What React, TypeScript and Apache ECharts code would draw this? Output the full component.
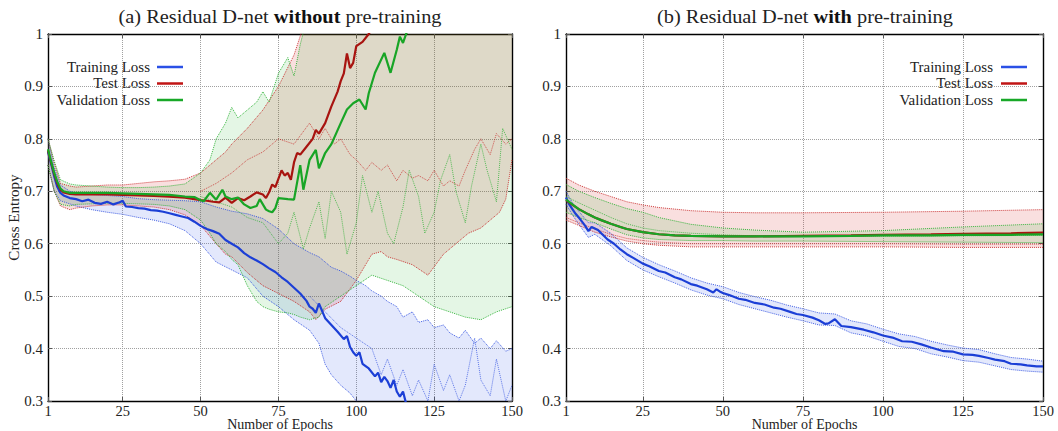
import React, { useEffect, useRef } from 'react';
import * as echarts from 'echarts';

const FONT = '"Liberation Serif", "Times New Roman", serif';

const xTicks = [1, 25, 50, 75, 100, 125, 150];
const yTicks = [0.3, 0.4, 0.5, 0.6, 0.7, 0.8, 0.9, 1];
const legendNames = ['Training Loss', 'Test Loss', 'Validation Loss'];
const titleA = ['(a) Residual D-net ', 'without', ' pre-training'];
const titleB = ['(b) Residual D-net ', 'with', ' pre-training'];

// ---------- Panel (a): without pre-training ----------
const aTrainEp = [1,2,3,4,5,6,8,10,12,14,16,18,20,22,24,25,26,28,30,32,34,36,38,40,42,44,46,48,50,52,54,56,58,60,62,64,66,68,70,72,74,76,78,80,82,84,85,86,87,88,90,92,94,96,97,98,99,100,101,102,104,106,107,108,109,110,111,112,113,114,115,116,118,120,125,130,135,140,145,150];
const aTrainMean = [.775,.752,.728,.708,.697,.692,.687,.685,.681,.684,.678,.676,.680,.675,.679,.682,.671,.670,.668,.667,.664,.663,.661,.658,.655,.652,.649,.642,.634,.628,.624,.619,.607,.600,.593,.582,.574,.568,.561,.553,.546,.536,.527,.516,.505,.491,.480,.476,.468,.486,.458,.445,.432,.418,.424,.403,.393,.386,.393,.371,.362,.347,.354,.336,.346,.338,.325,.340,.318,.308,.318,.295,.285,.275,.262,.250,.242,.235,.228,.220];
const aTrainBandEp = [1,3,5,8,10,15,20,25,30,35,40,45,50,55,60,65,70,75,80,85,88,90,92,95,98,100,103,105,108,110,113,115,118,120,123,125,128,130,133,135,138,140,143,145,148,150];
const aTrainHi = [.80,.745,.712,.70,.697,.694,.692,.69,.686,.684,.683,.682,.68,.67,.662,.657,.648,.628,.60,.583,.575,.565,.555,.548,.538,.53,.52,.51,.50,.49,.48,.46,.47,.45,.455,.44,.445,.43,.42,.435,.41,.42,.40,.415,.395,.40];
const aTrainLo = [.75,.70,.682,.676,.672,.665,.66,.656,.65,.645,.638,.625,.60,.565,.55,.535,.50,.48,.455,.435,.41,.37,.35,.33,.315,.30,.28,.27,.26,.25,.25,.24,.24,.23,.23,.22,.22,.22,.21,.21,.21,.2,.2,.2,.2,.2];
const aTrainRunEp = [85,90,95,100,105,108,110,113,115,118,120,123,125,128,130,133,135,138,140,143,145,148,150];
const aTrainRun = [.50,.47,.44,.42,.40,.35,.38,.33,.36,.31,.34,.30,.37,.32,.35,.30,.33,.42,.34,.31,.38,.30,.33];

const aTestEp = [1,2,3,4,5,6,8,10,15,20,25,30,35,40,45,48,50,52,54,56,58,60,62,64,66,68,70,71,72,73,74,76,77,78,79,80,81,82,84,86,87,88,90,92,94,95,96,97,98,99,100,102,104,106,110,120,130,140,150];
const aTestMean = [.778,.755,.733,.715,.703,.698,.695,.694,.694,.694,.693,.692,.691,.690,.688,.685,.683,.682,.680,.679,.688,.678,.687,.683,.690,.698,.694,.687,.698,.713,.708,.740,.730,.735,.722,.755,.773,.770,.785,.800,.817,.810,.830,.862,.890,.910,.925,.963,.935,.945,.977,.985,1.0,1.02,1.05,1.1,1.15,1.2,1.25];
const aTestBandEp = [1,3,5,8,10,15,20,25,30,35,40,45,50,55,58,60,65,70,75,80,85,87,90,95,100,105,108,110,113,118,123,128,132,136,140,143,146,148,150];
const aTestHi = [.80,.755,.715,.71,.708,.71,.712,.712,.715,.718,.72,.723,.735,.76,.775,.79,.82,.855,.90,.96,1.05,1.08,1.1,1.15,1.2,1.2,1.2,1.2,1.2,1.2,1.2,1.2,1.2,1.2,1.2,1.2,1.2,1.2,1.2];
const aTestLo = [.75,.70,.672,.665,.668,.672,.674,.674,.672,.670,.665,.655,.635,.60,.58,.575,.545,.52,.505,.49,.47,.455,.475,.49,.53,.58,.585,.575,.57,.56,.54,.58,.60,.62,.63,.645,.66,.685,.76];
const aTestRunEp = [50,55,60,65,70,75,80,85,88,90,93,95,98,100,103,105,108,110,113,115,118,120,123,125,128,130,133,135,138,140,143,145,148,150];
const aTestRun = [.70,.715,.735,.76,.775,.80,.79,.83,.80,.82,.79,.80,.77,.76,.74,.755,.74,.75,.72,.74,.725,.73,.72,.74,.71,.72,.71,.74,.78,.80,.77,.81,.79,.80];

const aValEp = [1,2,3,4,5,6,8,10,15,20,25,30,35,40,45,48,50,51,53,55,57,58,60,62,64,66,68,69,71,72,73,74,75,78,80,82,83,85,87,88,90,92,95,97,99,101,103,104,106,109,111,113,114,115,116,118,120,130,140,150];
const aValMean = [.78,.757,.735,.718,.705,.70,.697,.697,.697,.697,.696,.695,.694,.693,.690,.689,.683,.681,.697,.684,.703,.690,.685,.688,.675,.668,.672,.685,.665,.662,.660,.668,.687,.685,.684,.750,.703,.760,.779,.744,.773,.790,.830,.856,.868,.875,.856,.887,.926,.964,.926,.970,.995,.983,1.0,1.03,1.05,1.1,1.15,1.2];
const aValBandEp = [1,3,5,8,10,15,20,25,30,35,40,45,50,53,55,58,60,62,65,68,70,72,75,78,80,82,85,88,90,95,100,105,110,115,120,125,130,135,140,145,150];
const aValHi = [.80,.758,.722,.714,.712,.71,.708,.707,.707,.708,.71,.714,.735,.76,.80,.83,.86,.84,.855,.87,.89,.87,.925,.955,.92,.98,1.05,1.1,1.1,1.15,1.2,1.2,1.2,1.2,1.2,1.2,1.2,1.2,1.2,1.2,1.2];
const aValLo = [.75,.70,.675,.672,.675,.676,.677,.677,.676,.675,.672,.665,.645,.62,.60,.585,.57,.56,.52,.49,.48,.475,.47,.468,.465,.46,.455,.46,.48,.50,.52,.54,.53,.52,.50,.48,.47,.46,.455,.47,.48];
const aValRunEp = [50,55,60,65,70,75,78,80,83,85,88,90,92,95,97,100,102,105,107,110,112,115,117,120,122,125,127,130,132,135,137,140,142,145,147,150];
const aValRun = [.69,.68,.67,.65,.64,.60,.62,.66,.59,.63,.68,.61,.70,.66,.58,.64,.73,.66,.70,.62,.60,.67,.74,.69,.62,.66,.72,.77,.70,.64,.71,.79,.74,.68,.82,.78];

// ---------- Panel (b): with pre-training ----------
const bTrainEp = [1,2,3,4,5,6,7,8,9,10,11,12,14,16,18,20,22,25,27,30,32,35,37,40,42,45,47,48,49,50,52,55,57,60,63,66,68,71,73,75,78,80,82,83,85,87,90,94,97,100,103,106,109,112,115,119,122,125,128,130,133,135,138,140,143,145,148,150];
const bTrainMean = [.688,.675,.666,.657,.650,.642,.634,.624,.632,.629,.626,.620,.608,.600,.589,.580,.573,.562,.557,.548,.545,.536,.532,.523,.520,.513,.507,.513,.509,.506,.502,.495,.493,.487,.484,.478,.476,.470,.466,.464,.459,.454,.447,.448,.456,.443,.441,.436,.431,.425,.421,.414,.413,.408,.402,.395,.394,.389,.388,.386,.382,.379,.376,.371,.370,.368,.366,.366];
const bTrainBandEp = [1,3,5,8,10,15,20,25,30,35,40,45,50,55,60,65,70,75,80,85,90,95,100,105,110,115,120,125,130,135,140,145,150];
const bTrainHi = [.700,.678,.662,.640,.640,.620,.592,.574,.560,.548,.535,.525,.518,.507,.499,.492,.483,.476,.468,.466,.453,.447,.437,.428,.423,.414,.407,.401,.398,.390,.383,.380,.376];
const bTrainLo = [.675,.655,.637,.612,.618,.596,.568,.550,.537,.525,.512,.502,.495,.484,.476,.468,.460,.453,.445,.444,.430,.424,.414,.404,.400,.390,.384,.377,.374,.367,.360,.357,.355];

const bTestEp = [1,3,5,8,10,12,15,18,20,25,30,35,40,50,60,75,90,100,115,125,140,150];
const bTestMean = [.683,.674,.666,.656,.650,.645,.638,.632,.628,.622,.618,.616,.615,.614,.614,.615,.616,.617,.618,.619,.620,.621];
const bTestBandEp = [1,5,10,15,20,25,30,40,50,60,75,100,125,150];
const bTestHi = [.725,.712,.700,.690,.680,.674,.669,.663,.660,.659,.659,.660,.662,.665];
const bTestLo = [.645,.635,.622,.613,.605,.600,.597,.594,.594,.594,.594,.594,.593,.593];
const bTestRun = [.650,.640,.628,.618,.610,.606,.603,.600,.600,.600,.600,.600,.599,.599];

const bValEp = [1,3,5,8,10,12,15,18,20,25,30,35,40,50,60,75,90,100,115,125,140,150];
const bValMean = [.684,.675,.666,.656,.650,.645,.638,.632,.628,.622,.618,.616,.615,.614,.614,.614,.615,.616,.616,.617,.617,.618];
const bValBandEp = [1,5,10,15,20,25,30,40,50,60,75,100,125,150];
const bValHi = [.713,.700,.688,.677,.667,.660,.650,.637,.630,.626,.622,.625,.632,.638];
const bValLo = [.660,.650,.640,.628,.617,.611,.608,.606,.606,.605,.605,.604,.603,.602];
const bValRun = [.690,.678,.664,.650,.638,.630,.625,.620,.617,.615,.614,.614,.615,.616];

const COLORS = {
  train: '#1c3fd6',
  test: '#a81410',
  val: '#18a526',
  trainDot: '#3050e0',
  testDot: '#c82828',
  valDot: '#28b030',
  trainFill: 'rgba(40,80,230,0.13)',
  testFill: 'rgba(210,30,30,0.14)',
  valFill: 'rgba(30,180,40,0.12)',
  legTrain: '#2a50e6',
  legTest: '#c01515',
  legVal: '#18a828',
};

const pairs = (ep: number[], v: number[]) => ep.map((e, i) => [e, v[i]]);

function dottedSeries(name: string, ep: number[], v: number[], color: string, axis: number, opacity = 0.9) {
  return {
    type: 'line', name, data: pairs(ep, v), symbol: 'none', silent: true, clip: true,
    xAxisIndex: axis, yAxisIndex: axis, z: 3,
    lineStyle: { color, width: 1, type: 'dotted', opacity },
  };
}

function bandSeries(id: string, ep: number[], lo: number[], hi: number[], dot: string, fill: string, axis: number) {
  return [
    {
      type: 'custom', name: id + '-band', xAxisIndex: axis, yAxisIndex: axis, silent: true, clip: true, z: 1,
      data: ep.map((e, i) => [e, lo[i], hi[i]]),
      encode: { x: 0, y: [1, 2] },
      renderItem: (params: any, api: any) => {
        if (params.dataIndex !== 0) return null;
        const lower = ep.map((e, i) => api.coord([e, lo[i]]));
        const upper = ep.map((e, i) => api.coord([e, hi[i]])).reverse();
        const cs = params.coordSys;
        return {
          type: 'polygon',
          shape: { points: [...lower, ...upper] },
          style: { fill, stroke: null },
          clipPath: { type: 'rect', shape: { x: cs.x, y: cs.y, width: cs.width, height: cs.height } },
        };
      },
    },
    dottedSeries(id + '-lo', ep, lo, dot, axis),
    dottedSeries(id + '-hi', ep, hi, dot, axis),
  ];
}

function meanSeries(name: string, ep: number[], v: number[], color: string, axis: number, z: number) {
  return {
    type: 'line', name, data: pairs(ep, v), symbol: 'none', silent: true, clip: true,
    xAxisIndex: axis, yAxisIndex: axis, z,
    lineStyle: { color, width: 2.2 },
  };
}

const tickFmt = (v: number) => (Math.abs(v - 1) < 1e-6 ? '1' : v.toFixed(1));

function axesFor(g: number, showYName: boolean) {
  const xBottom = {
    type: 'value', gridIndex: g, min: 1, max: 150, position: 'bottom',
    axisLine: { show: true, onZero: false, lineStyle: { color: '#000', width: 1.4 } },
    axisTick: { show: true, inside: true, length: 4, customValues: xTicks, lineStyle: { color: '#555' } },
    axisLabel: { customValues: xTicks, color: '#222', fontFamily: FONT, fontSize: 14.5, lineHeight: 13, margin: 3 },
    splitLine: { show: true, lineStyle: { type: 'dotted', color: '#a0a0a0', width: 1 } },
    name: 'Number of Epochs', nameLocation: 'middle', nameGap: 17, nameMoveOverlap: false,
    nameTextStyle: { color: '#222', fontFamily: FONT, fontSize: 14, lineHeight: 13 },
  };
  const xTop = {
    type: 'value', gridIndex: g, min: 1, max: 150, position: 'top',
    axisLine: { show: true, onZero: false, lineStyle: { color: '#000', width: 1.4 } },
    axisTick: { show: true, inside: true, length: 4, customValues: xTicks, lineStyle: { color: '#555' } },
    axisLabel: { show: false }, splitLine: { show: false },
  };
  const yLeft: any = {
    type: 'value', gridIndex: g, min: 0.3, max: 1, interval: 0.1, position: 'left',
    axisLine: { show: true, onZero: false, lineStyle: { color: '#000', width: 1.4 } },
    axisTick: { show: true, inside: true, length: 4, customValues: yTicks, lineStyle: { color: '#555' } },
    axisLabel: { customValues: yTicks, formatter: tickFmt, color: '#222', fontFamily: FONT, fontSize: 15, margin: 5 },
    splitLine: { show: true, lineStyle: { type: 'dotted', color: '#a0a0a0', width: 1 } },
  };
  if (showYName) {
    Object.assign(yLeft, {
      name: 'Cross Entropy', nameLocation: 'middle', nameGap: 27, nameRotate: 90, nameMoveOverlap: false,
      nameTextStyle: { color: '#222', fontFamily: FONT, fontSize: 15 },
    });
  }
  const yRight = {
    type: 'value', gridIndex: g, min: 0.3, max: 1, interval: 0.1, position: 'right',
    axisLine: { show: true, onZero: false, lineStyle: { color: '#000', width: 1.4 } },
    axisTick: { show: true, inside: true, length: 4, customValues: yTicks, lineStyle: { color: '#555' } },
    axisLabel: { show: false }, splitLine: { show: false },
  };
  return { x: [xBottom, xTop], y: [yLeft, yRight] };
}

function legendGraphic(textRight: number, lineX0: number, y0: number) {
  const cols = [COLORS.legTrain, COLORS.legTest, COLORS.legVal];
  const els: any[] = [];
  legendNames.forEach((n, i) => {
    const y = y0 + i * 16.5;
    els.push({
      type: 'text', x: textRight, y, scaleX: 1.07, silent: true,
      style: { text: n, fill: '#222', font: `14px ${FONT}`, textAlign: 'right', textVerticalAlign: 'middle' },
    });
    els.push({
      type: 'line', silent: true,
      shape: { x1: lineX0, y1: y, x2: lineX0 + 26, y2: y },
      style: { stroke: cols[i], lineWidth: 2.5 },
    });
  });
  return els;
}

function titleGraphic(parts: string[], cx: number) {
  return {
    type: 'text', x: cx, y: 17, scaleX: 1.13, silent: true,
    style: {
      text: `{n|${parts[0]}}{b|${parts[1]}}{n|${parts[2]}}`,
      textAlign: 'center', textVerticalAlign: 'middle',
      rich: {
        n: { fontFamily: FONT, fontSize: 18, fill: '#222' },
        b: { fontFamily: FONT, fontSize: 18, fontWeight: 'bold', fill: '#111' },
      },
    },
  };
}

export default function App() {
  const ref = useRef<HTMLDivElement>(null);
  useEffect(() => {
    if (!ref.current) return;
    const chart = echarts.init(ref.current, undefined, { renderer: 'svg' });
    const a = axesFor(0, true);
    const b = axesFor(1, false);
    const option: any = {
      animation: false,
      backgroundColor: '#fff',
      grid: [
        { left: 48, top: 34, width: 464, height: 367, containLabel: false, outerBoundsMode: 'none' },
        { left: 566, top: 34, width: 477, height: 367, containLabel: false, outerBoundsMode: 'none' },
      ],
      xAxis: [...a.x, ...b.x],
      yAxis: [...a.y, ...b.y],
      series: [
        ...bandSeries('aTrain', aTrainBandEp, aTrainLo, aTrainHi, COLORS.trainDot, COLORS.trainFill, 0),
        ...bandSeries('aTest', aTestBandEp, aTestLo, aTestHi, COLORS.testDot, COLORS.testFill, 0),
        ...bandSeries('aVal', aValBandEp, aValLo, aValHi, COLORS.valDot, COLORS.valFill, 0),
        dottedSeries('aTrain-run', aTrainRunEp, aTrainRun, COLORS.trainDot, 0, 0.75),
        dottedSeries('aTest-run', aTestRunEp, aTestRun, COLORS.testDot, 0, 0.75),
        dottedSeries('aVal-run', aValRunEp, aValRun, COLORS.valDot, 0, 0.75),
        meanSeries('Training Loss', aTrainEp, aTrainMean, COLORS.train, 0, 5),
        meanSeries('Test Loss', aTestEp, aTestMean, COLORS.test, 0, 6),
        meanSeries('Validation Loss', aValEp, aValMean, COLORS.val, 0, 7),
        ...bandSeries('bTrain', bTrainBandEp, bTrainLo, bTrainHi, COLORS.trainDot, COLORS.trainFill, 2),
        ...bandSeries('bTest', bTestBandEp, bTestLo, bTestHi, COLORS.testDot, COLORS.testFill, 2),
        ...bandSeries('bVal', bValBandEp, bValLo, bValHi, COLORS.valDot, COLORS.valFill, 2),
        dottedSeries('bTest-run', bTestBandEp, bTestRun, COLORS.testDot, 2, 0.75),
        dottedSeries('bVal-run', bValBandEp, bValRun, COLORS.valDot, 2, 0.75),
        meanSeries('Training Loss ', bTrainEp, bTrainMean, COLORS.train, 2, 5),
        meanSeries('Test Loss ', bTestEp, bTestMean, COLORS.test, 2, 6),
        meanSeries('Validation Loss ', bValEp, bValMean, COLORS.val, 2, 7),
      ],
      graphic: [
        titleGraphic(titleA, 280),
        titleGraphic(titleB, 805),
        ...legendGraphic(150, 157, 67),
        ...legendGraphic(993, 1001, 67),
      ],
    };
    chart.setOption(option);
    return () => chart.dispose();
  }, []);
  return <div ref={ref} style={{ position: 'fixed', left: 0, top: 0, width: 1058, height: 431 }} />;
}
